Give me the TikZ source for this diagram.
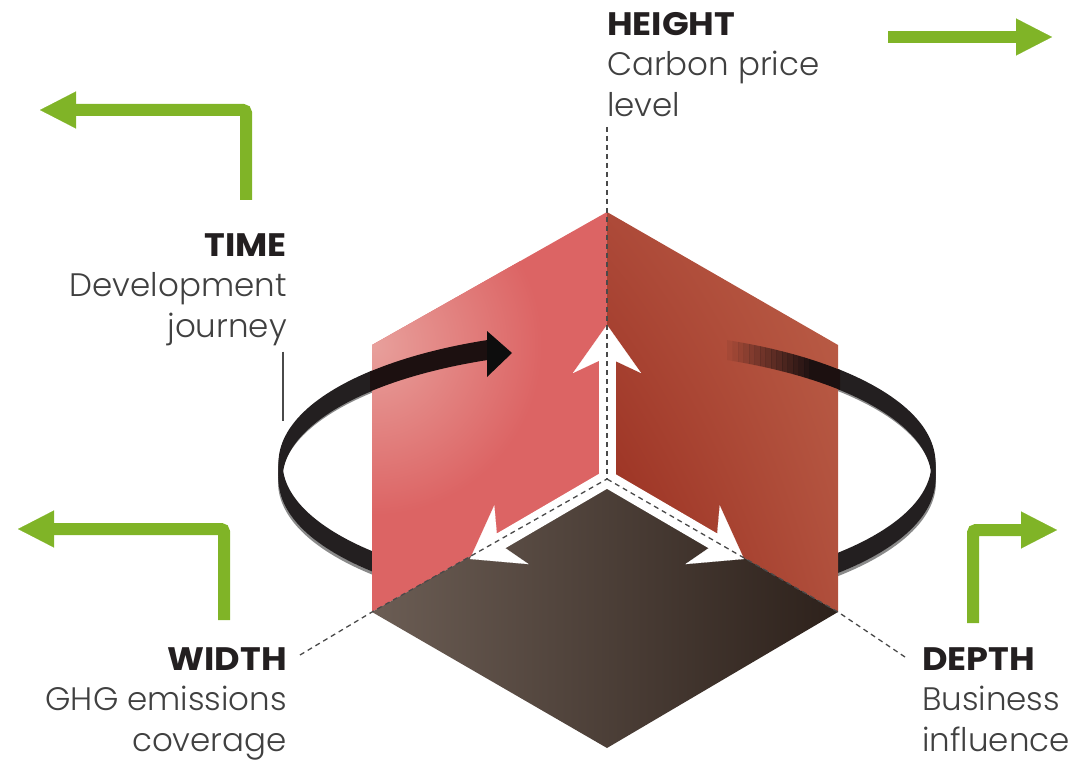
\documentclass[tikz,border=0pt]{standalone}
\usepackage{fontspec}
\setmainfont{Poppins}[UprightFont=* Light, BoldFont=* Bold, BoldFeatures={FakeStretch=1.08}]
\usetikzlibrary{arrows.meta,shadings}

\definecolor{arrowgreen}{HTML}{80B427}
\definecolor{ringblack}{HTML}{231F20}
\definecolor{ringfront}{HTML}{1C1010}
\definecolor{ringgray}{HTML}{8A8A8A}
\definecolor{titleink}{HTML}{231F20}
\definecolor{labelink}{HTML}{404040}
\definecolor{edgeink}{HTML}{4A4A4A}
\definecolor{leftlight}{HTML}{E8A09C}
\definecolor{leftred}{HTML}{DC6464}
\definecolor{rightul}{HTML}{AD4A39}
\definecolor{rightur}{HTML}{BC5F48}
\definecolor{rightll}{HTML}{962A1B}
\definecolor{rightlr}{HTML}{B04F3C}
\definecolor{floorleft}{HTML}{6B5D54}
\definecolor{floorright}{HTML}{2D211B}

% upper and lower edge of the ring band, x given in pixels
\newcommand{\ringtop}[1]{471-10-130*sqrt(1-((#1-607)/326.5)*((#1-607)/326.5))}
\newcommand{\ringbot}[1]{471+10-130*sqrt(1-((#1-607)/326.5)*((#1-607)/326.5))}

\begin{document}
\begin{tikzpicture}[x=1pt,y=-1pt,
    greenarrow/.style={draw=arrowgreen, line width=12pt, rounded corners=3pt,
        -{Triangle[length=36pt,width=37pt,line width=0.1pt]}},
    whitearrow/.style={draw=white, line width=17pt, line cap=round,
        -{Stealth[length=48pt,width=68pt,inset=16pt,line width=0.1pt]}},
    edgeline/.style={draw=edgeink, line width=1.3pt, dash pattern=on 5pt off 4pt},
    ringband/.style={draw=ringblack, line width=4pt},
    label/.style={font=\fontsize{32.5}{40.5}\selectfont, text=labelink, inner sep=0pt},
]
\useasboundingbox (0,0) rectangle (1069,762);

% cube corners
\coordinate (top) at (607,212);
\coordinate (mid) at (607,479);
\coordinate (ltop) at (372,345);
\coordinate (rtop) at (838,345);
\coordinate (lft) at (372,612);
\coordinate (rgt) at (838,612);
\coordinate (bot) at (607,748);

% labels
\node[label, anchor=north west, align=left] (height) at (607,12)
    {\textbf{\textcolor{titleink}{HEIGHT}}\\Carbon price\\level};
\node[label, anchor=north east, align=right] (time) at (287,233)
    {\textbf{\textcolor{titleink}{TIME}}\\Development\\journey};
\node[label, anchor=north east, align=right] (width) at (287,647)
    {\textbf{\textcolor{titleink}{WIDTH}}\\GHG emissions\\coverage};
\node[label, anchor=north west, align=left] (depth) at (922,647)
    {\textbf{\textcolor{titleink}{DEPTH}}\\Business\\influence};

\coordinate (htick) at (607,127);
\coordinate (wtick) at (300,655);
\coordinate (dtick) at (905,657);
\draw[edgeink, line width=1.3pt] ([xshift=-4pt,yshift=-6pt]time.south east) -- ++(0,69);

% green arrows
\draw[greenarrow] (888,37) -- (1052,37);
\draw[greenarrow] (246,200) -- (246,110) -- (40,110);
\draw[greenarrow] (224,620) -- (224,529) -- (18,529);
\draw[greenarrow] (973,623) -- (973,530) -- (1057,530);

% ring behind the cube
\draw[ringgray, line width=3pt] (607,482) ellipse [x radius=327.5pt, y radius=130.5pt];
\foreach \cy in {463,465,...,479}
    \draw[ringband] (607,\cy) ellipse [x radius=326.5pt, y radius=130pt];

% faces
\fill[leftred] (lft) -- (ltop) -- (top) -- (mid) -- cycle;
\begin{scope}
    \clip (lft) -- (ltop) -- (top) -- (mid) -- cycle;
    \shade[inner color=leftlight, outer color=leftred] (372,345) circle (170pt);
\end{scope}
\shade[upper left=rightul, upper right=rightur, lower left=rightll, lower right=rightlr]
    (mid) -- (top) -- (rtop) -- (rgt) -- cycle;
\shade[left color=floorleft, right color=floorright]
    (lft) -- (mid) -- (rgt) -- (bot) -- cycle;

% ring in front
\fill[ringfront] plot[domain=370:490, samples=30] (\x,{\ringtop{\x}})
    -- plot[domain=490:370, samples=30] (\x,{\ringbot{\x}}) -- cycle;
\fill[black!95] (487,331) -- (512,353) -- (487,377) -- cycle;
\foreach \i in {0,...,14}
    \fill[ringfront, fill opacity={(\i+1)/16}]
        plot[domain={727+5.5*\i}:{732.8+5.5*\i}, samples=3] (\x,{\ringtop{\x}})
        -- plot[domain={732.8+5.5*\i}:{727+5.5*\i}, samples=3] (\x,{\ringbot{\x}}) -- cycle;
\fill[ringfront] plot[domain=809:840, samples=10] (\x,{\ringtop{\x}})
    -- plot[domain=840:809, samples=10] (\x,{\ringbot{\x}}) -- cycle;

% axes
\draw[whitearrow] (mid) -- (607,325);
\draw[whitearrow] (mid) -- (470,559);
\draw[whitearrow] (mid) -- (744,559);

% cube edges
\draw[edgeline] (htick) -- (mid);
\draw[edgeline] (wtick) -- (lft) -- (mid);
\draw[edgeline] (dtick) -- (rgt) -- (mid);
\end{tikzpicture}
\end{document}
